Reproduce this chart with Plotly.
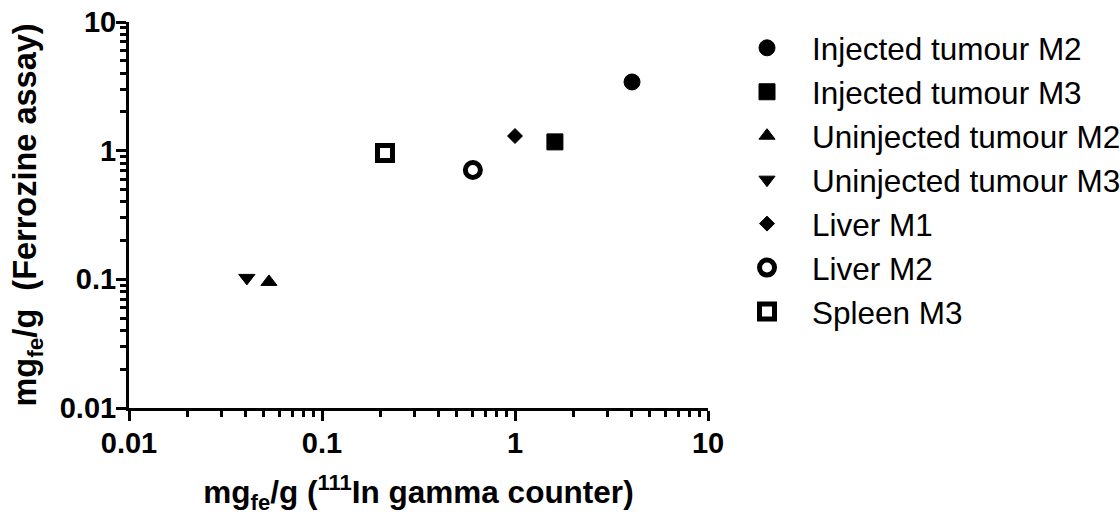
import plotly.graph_objects as go

# ---- data ----
names = ["Injected tumour M2", "Injected tumour M3", "Uninjected tumour M2",
         "Uninjected tumour M3", "Liver M1", "Liver M2", "Spleen M3"]
gamma_x = [4.04, 1.61, 0.0531, 0.0408, 1.00, 0.605, 0.212]
ferrozine_y = [3.42, 1.17, 0.0955, 0.1026, 1.30, 0.708, 0.96]
symbols = ["circle", "square", "triangle-up", "triangle-down", "diamond",
           "circle-open", "square-open"]
sizes = [16, 16, 14, 14, 11.5, 15, 15]
line_widths = [1, 1, 1, 1, 1, 5, 5]

tick_vals = [0.01, 0.1, 1, 10]
tick_text = ["0.01", "0.1", "1", "10"]

FONT = "Liberation Sans, Arial, Helvetica, sans-serif"

fig = go.Figure()
for n, xv, yv, s, sz, lw in zip(names, gamma_x, ferrozine_y, symbols, sizes, line_widths):
    fig.add_trace(go.Scatter(
        x=[xv], y=[yv], mode="markers", name=n,
        marker=dict(symbol=s, size=sz, color="black",
                    line=dict(color="black", width=lw)),
    ))

axis_common = dict(
    type="log",
    range=[-2, 1],
    tickvals=tick_vals,
    ticktext=tick_text,
    showline=True, linecolor="black", linewidth=3,
    ticks="outside", ticklen=10, tickwidth=3, tickcolor="black",
    minor=dict(ticks="outside", ticklen=6, tickwidth=2.5, tickcolor="black",
               dtick="D1", showgrid=False),
    showgrid=False, zeroline=False,
    tickfont=dict(family=FONT, size=29, color="black", weight="bold"),
    automargin=False,
)

fig.update_xaxes(**axis_common, ticklabelstandoff=-3,
                 title=dict(text="mg<sub>fe</sub>/g (<sup>111</sup>In gamma counter)",
                            font=dict(family=FONT, size=31.5, color="black", weight="bold"),
                            standoff=27))
fig.update_yaxes(**axis_common, ticklabelstandoff=-6,
                 title=dict(text="mg<sub>fe</sub>/g\u00a0 (Ferrozine assay)",
                            font=dict(family=FONT, size=32.5, color="black", weight="bold"),
                            standoff=14))

fig.update_layout(
    template="none",
    width=1120, height=515,
    margin=dict(l=129, r=412, t=22, b=107, pad=0, autoexpand=False),
    paper_bgcolor="white", plot_bgcolor="white",
    showlegend=True,
    legend=dict(x=1.0242, xanchor="left", y=1.003, yanchor="top",
                font=dict(family=FONT, size=31.5, color="black"),
                itemwidth=80, bgcolor="rgba(0,0,0,0)", borderwidth=0,
                maxheight=480,
                itemclick=False, itemdoubleclick=False),
    font=dict(family=FONT, color="black"),
)

fig.write_html("out.html")
